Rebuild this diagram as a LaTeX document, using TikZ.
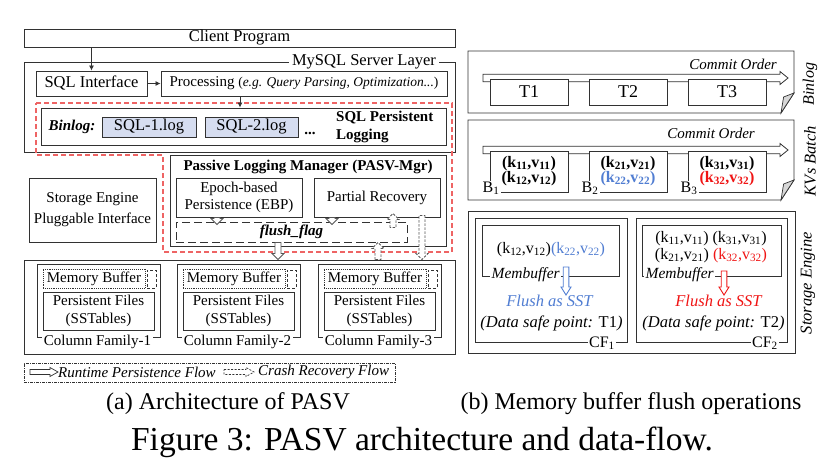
\documentclass[tikz,border=0pt]{standalone}
\usepackage{fontspec}
\setmainfont{Liberation Serif}
\usetikzlibrary{calc,arrows.meta}
\definecolor{ln}{RGB}{50,50,50}
\definecolor{ag}{RGB}{85,85,85}
\definecolor{rdash}{RGB}{238,100,100}
\definecolor{logfill}{RGB}{214,221,240}
\definecolor{kblue}{RGB}{80,125,210}
\definecolor{kred}{RGB}{240,20,20}
\definecolor{flapgray}{RGB}{215,215,215}
\newcommand\fs[2]{\fontsize{#1}{#2}\selectfont}
\newcommand\kvp[1]{(k\textsubscript{#1},v\textsubscript{#1})}
\tikzset{
  bx/.style n args={2}{draw=ln, line width=0.9pt, fill=white, inner sep=0pt,
    minimum width=#1pt, minimum height=#2pt},
  arr/.style={draw=ln, line width=0.8pt, -{Latex[length=5pt,width=5pt]}},
  reddash/.style={draw=rdash, line width=1.1pt, dash pattern=on 5pt off 3pt},
  ffdash/.style={dash pattern=on 8pt off 4pt},
  harrow/.style args={#1/#2/#3}{to path={
    let \p1=($(\tikztotarget)!#3!(\tikztostart)$) in
    ($(\tikztostart)!#1!90:(\tikztotarget)$)
    -- ($(\p1)!#1!90:(\tikztotarget)$)
    -- ($(\p1)!#2!90:(\tikztotarget)$)
    -- (\tikztotarget)
    -- ($(\p1)!#2!-90:(\tikztotarget)$)
    -- ($(\p1)!#1!-90:(\tikztotarget)$)
    -- ($(\tikztostart)!#1!-90:(\tikztotarget)$)
    -- cycle}},
  fa/.style={harrow=3pt/6pt/6pt, draw=ag, fill=white, line width=0.8pt},
  da/.style={fa, dash pattern=on 2.5pt off 1.5pt},
  ca/.style={harrow=3.7pt/6.5pt/8pt, draw=ln, fill=white, line width=0.8pt},
  la/.style={harrow=2.5pt/4.5pt/8pt, draw=ln, fill=white, line width=0.7pt},
  fl/.style={harrow=2.8pt/5pt/8pt, fill=white, line width=0.9pt},
  lbl/.style={fill=white, inner xsep=1.5pt, inner ysep=1pt, anchor=base},
}
\begin{document}
\begin{tikzpicture}[x=1pt,y=-1pt]
\useasboundingbox (0,0) rectangle (839,469);
% ================= (a) =================
\node[bx={431}{18}, font=\fs{16.5}{19}] (client) at (239.5,38) {Client Program};
\node[bx={431}{90}] (mysql) at (239.5,107) {};
\node[fill=white, inner xsep=3pt, inner ysep=0pt, font=\fs{16.5}{19}] (mytitle) at (364,62) {MySQL Server Layer};
\node[bx={111}{25}, font=\fs{16.5}{19}] (sqli) at (91.5,83.5) {SQL Interface};
\node[bx={286}{25}] (proc) at (304,83.5) {\fs{15}{18}Processing \fs{13.5}{16}(\textit{e.g. Query Parsing, Optimization...})};
\draw[reddash] (36,103) -- (452,103) -- (452,252) -- (163,252) -- (163,155) -- (36,155) -- cycle;
\node[bx={405}{37}] (bl) at (243.5,126.5) {};
\node[font=\fs{15}{18}\bfseries\itshape] (binl) at (72,127) {Binlog:};
\node[bx={94}{20}, fill=logfill, font=\fs{16.5}{19}] (sql1) at (149,127) {SQL-1.log};
\node[bx={93}{20}, fill=logfill, font=\fs{16.5}{19}] (sql2) at (251.5,127) {SQL-2.log};
\node[font=\fs{15}{18}\bfseries] (dots) at (310,133) {...};
\node[anchor=west, align=left, font=\fs{15}{18}\bfseries, inner sep=0pt] (sqlpl) at (336,127) {SQL Persistent\\Logging};
\coordinate (xa) at (240,0);
\draw[arr] (client.south -| sqli.north) -- (sqli.north);
\draw[arr] (sqli.east) -- (proc.west);
\draw[arr] (proc.south -| xa) -- (bl.north -| xa);
% PASV manager
\node[bx={276}{91}] (pasv) at (308,200.5) {};
\node[font=\fs{15}{18}\bfseries] (pasvt) at (308,167) {Passive Logging Manager (PASV-Mgr)};
\node[bx={126}{39}, align=center, font=\fs{15}{17}] (ebp) at (239,197.5) {Epoch-based\\Persistence (EBP)};
\node[bx={126}{39}, font=\fs{15}{17}] (pr) at (377,197.5) {Partial Recovery};
\node[bx={231}{20}, ffdash, font=\fs{15}{17}\bfseries\itshape] (ff) at (291.5,232) {flush\_flag};
\node[bx={127}{64}, align=center, font=\fs{15}{21}] (sepi) at (92.5,210) {Storage Engine\\Pluggable Interface};
% storage engine
\node[bx={431}{94}] (se) at (239.5,307) {};
\foreach \i/\dx in {1/0,2/140,3/281}{
  \node[bx={123}{73}] (cf\i) at (98.5+\dx,300.5) {};
  \node[lbl, font=\fs{15}{18}] (cfl\i) at (97.5+\dx,345) {Column Family-\i};
  \node[bx={102}{19}, densely dotted, line width=0.7pt, font=\fs{15}{18}] (mb\i) at (94+\dx,278.5) {Memory Buffer};
  \node[bx={9}{18}, dash pattern=on 3pt off 2pt] (mbs\i) at (151.5+\dx,279) {};
  \node[bx={111}{38}, align=center, font=\fs{15}{18}] (pf\i) at (98.5+\dx,311) {Persistent Files\\(SSTables)};
}
% hollow flow arrows
\coordinate (x217) at (217,0);
\coordinate (x332) at (332,0);
\coordinate (x393) at (393,0);
\coordinate (x278) at (278,0);
\coordinate (x378) at (378,0);
\coordinate (x422) at (422,0);
\coordinate (h1a) at (ebp.south -| x217);
\coordinate (h1b) at ($(ff.north -| x217)+(0,3)$);
\coordinate (h2a) at (pr.south -| x332);
\coordinate (h2b) at ($(ff.north -| x332)+(0,3)$);
\coordinate (h3a) at ($(ff.north -| x393)+(0,6)$);
\coordinate (h3b) at ($(pr.south -| x393)+(0,-4)$);
\coordinate (h4a) at (ff.south -| x278);
\coordinate (h4b) at (se.north -| x278);
\coordinate (h5a) at (se.north -| x378);
\coordinate (h5b) at (ff.south -| x378);
\coordinate (h6a) at ($(pr.south -| x422)+(0,-2)$);
\coordinate (h6b) at (se.north -| x422);
\draw[fa] (h1a) to (h1b);
\draw[fa] (h2a) to (h2b);
\draw[da] (h3a) to (h3b);
\draw[fa] (h4a) to (h4b);
\draw[da] (h5a) to (h5b);
\draw[da] (h6a) to (h6b);
% legend
\node[bx={371}{19}, line width=0.6pt, dash pattern=on 3pt off 1pt on 1pt off 1pt] (leg) at (209.5,372.5) {};
\coordinate (l1a) at (30,372);
\coordinate (l1b) at (58,372);
\coordinate (l2a) at (224,372);
\coordinate (l2b) at (254,372);
\draw[la] (l1a) to (l1b);
\draw[la, dash pattern=on 2pt off 1.5pt] (l2a) to (l2b);
\node[anchor=west, inner sep=0pt, font=\fs{15}{18}\itshape] (lt1) at (58,372) {Runtime Persistence Flow};
\node[anchor=west, inner sep=0pt, font=\fs{15}{18}\itshape] (lt2) at (258,372) {Crash Recovery Flow};
% ================= (b) =================
\draw[ln, line width=0.9pt] (468,51) -- (794,51) -- (794,93) -- (781,113) -- (468,113) -- cycle;
\draw[ln, fill=flapgray, line width=0.7pt] (781,113) -- (783.6,97) -- (794,93) -- cycle;
\coordinate (c1a) at (483,78);
\coordinate (c1b) at (788,78);
\draw[ca] (c1a) to (c1b);
\node[anchor=east, inner sep=0pt, font=\fs{15}{18}\itshape] (co1) at (777,64) {Commit Order};
\node[bx={78}{26}, font=\fs{18}{20}] (t1) at (529,92) {T1};
\node[bx={78}{26}, font=\fs{18}{20}] (t2) at (628,92) {T2};
\node[bx={78}{26}, font=\fs{18}{20}] (t3) at (727,92) {T3};
\node[rotate=90, font=\fs{16}{18}\itshape] (rbin) at (810,84) {Binlog};
\draw[ln, line width=0.9pt] (468,120) -- (794,120) -- (794,180) -- (781,200) -- (468,200) -- cycle;
\draw[ln, fill=flapgray, line width=0.7pt] (781,200) -- (783.6,184) -- (794,180) -- cycle;
\coordinate (c2a) at (483,150);
\coordinate (c2b) at (788,150);
\draw[ca] (c2a) to (c2b);
\node[anchor=east, inner sep=0pt, font=\fs{15}{18}\itshape] (co2) at (755,133) {Commit Order};
\node[bx={78}{41}] (b1) at (529,171.5) {};
\node[bx={78}{41}] (b2) at (628,171.5) {};
\node[bx={78}{41}] (b3) at (727,171.5) {};
\node[lbl, font=\fs{16}{18}] (b1l) at (491,192) {B\textsubscript{1}};
\node[lbl, font=\fs{16}{18}] (b2l) at (590,192) {B\textsubscript{2}};
\node[lbl, font=\fs{16}{18}] (b3l) at (689,192) {B\textsubscript{3}};
\node[anchor=base, inner sep=0pt, font=\fs{16}{18}\bfseries] (kv11) at (529,167) {\kvp{11}};
\node[anchor=base, inner sep=0pt, font=\fs{16}{18}\bfseries] (kv12) at (529,182) {\kvp{12}};
\node[anchor=base, inner sep=0pt, font=\fs{16}{18}\bfseries] (kv21) at (628,167) {\kvp{21}};
\node[anchor=base, inner sep=0pt, font=\fs{16}{18}\bfseries, text=kblue] (kv22) at (628,182) {\kvp{22}};
\node[anchor=base, inner sep=0pt, font=\fs{16}{18}\bfseries] (kv31) at (727,167) {\kvp{31}};
\node[anchor=base, inner sep=0pt, font=\fs{16}{18}\bfseries, text=kred] (kv32) at (727,182) {\kvp{32}};
\node[rotate=90, font=\fs{16.5}{18}\itshape] (rkv) at (810,161) {KVs Batch};
% storage engine (b)
\node[bx={327}{142}] (seb) at (631.5,282) {};
\node[bx={152}{124}] (cfb1) at (551,280) {};
\node[bx={137}{51}] (mbf1) at (550.5,250.5) {};
\node[bx={151}{124}] (cfb2) at (711.5,280) {};
\node[bx={139}{51}] (mbf2) at (711.5,250.5) {};
\node[lbl, font=\fs{16}{18}] (cf1l) at (602,347) {CF\textsubscript{1}};
\node[lbl, font=\fs{16}{18}] (cf2l) at (765,347) {CF\textsubscript{2}};
\node[lbl, anchor=base west, font=\fs{15.5}{18}\itshape] (mbl1) at (490,278) {Membuffer};
\node[lbl, anchor=base west, font=\fs{15.5}{18}\itshape] (mbl2) at (644,278) {Membuffer};
\node[anchor=base, inner sep=0pt, font=\fs{16}{18}] (kvs1) at (551,253) {\kvp{12}\textcolor{kblue}{\kvp{22}}};
\node[anchor=base, inner sep=0pt, font=\fs{16}{18}] (kvs2) at (711,242) {\kvp{11} \kvp{31}};
\node[anchor=base, inner sep=0pt, font=\fs{16}{18}] (kvs3) at (711,259) {\kvp{21} \textcolor{kred}{\kvp{32}}};
\coordinate (f1a) at (566,267);
\coordinate (f1b) at (566,295);
\coordinate (f2a) at (724,271);
\coordinate (f2b) at (724,295);
\draw[fl, draw=kblue] (f1a) to (f1b);
\draw[fl, draw=kred] (f2a) to (f2b);
\node[anchor=base, inner sep=0pt, font=\fs{16.5}{18}\itshape, text=kblue] (fs1) at (549.5,306) {Flush as SST};
\node[anchor=base, inner sep=0pt, font=\fs{16.5}{18}\itshape, text=kred] (fs2) at (718.5,306) {Flush as SST};
\node[anchor=base, inner sep=0pt, font=\fs{16.5}{18}] (ds1) at (551.5,327) {\textit{(Data safe point:} T1\textit{)}};
\node[anchor=base, inner sep=0pt, font=\fs{16.5}{18}] (ds2) at (713.5,327) {\textit{(Data safe point:} T2\textit{)}};
\node[rotate=90, font=\fs{16.5}{18}\itshape] (rse) at (808,283) {Storage Engine};
% captions
\node[font=\fs{24}{28}] (capa) at (228,404) {(a) Architecture of PASV};
\node[font=\fs{24}{28}] (capb) at (631,404) {(b) Memory buffer flush operations};
\node[font=\fs{33.5}{38}] (fig) at (422,442) {Figure 3: PASV architecture and data-flow.};
\end{tikzpicture}
\end{document}
